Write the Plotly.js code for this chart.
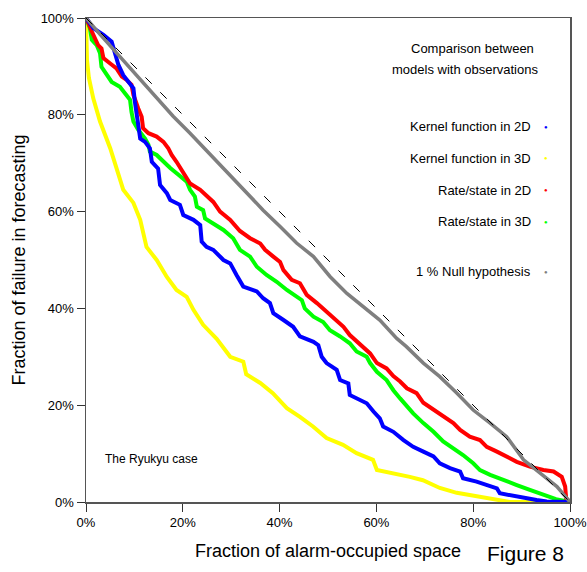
<!DOCTYPE html>
<html>
<head>
<meta charset="utf-8">
<script src="https://cdn.plot.ly/plotly-3.0.1.min.js"></script>
<style>html,body{margin:0;padding:0;background:#fff;}#chart{width:587px;height:572px;}</style>
</head>
<body>
<div id="chart"></div>
<script>
// Fraction of alarm-occupied space (%) and fraction of failure (%) per model
var kernel2dX = [0,0.1,1.5,3.6,5.3,6.0,6.7,7.7,8.7,9.8,10.1,10.5,10.8,11.2,12.2,13.2,13.6,14.9,15.3,16.7,17.4,19.4,20.1,22.2,23.6,23.9,24.9,26.3,28.4,29.8,31.1,32.5,35.3,36.6,38.0,38.7,40.8,42.8,44.2,47.0,48.0,48.7,49.7,51.8,52.5,54.2,54.5,55.9,58.0,59.4,60.7,61.4,63.5,65.6,67.6,69.7,71.8,73.1,75.2,77.3,77.9,80.7,82.8,84.9,85.5,87.6,90.4,93.1,95.2,100];
var kernel2dY = [100,99.9,97.9,96.5,95.1,93.0,90.3,88.2,86.8,85.5,82.7,80.0,77.2,75.1,74.4,73.1,70.3,68.9,65.5,63.8,62.4,61.4,59.3,58.3,57.2,53.8,52.7,52.1,50.0,49.3,46.9,44.5,43.5,42.1,41.1,39.0,37.6,36.2,34.2,33.1,32.4,30.0,28.7,27.3,25.2,24.5,22.1,21.4,20.4,18.7,17.3,15.6,14.5,12.8,11.4,10.4,9.4,8.0,7.0,6.3,4.9,4.2,3.5,2.8,1.8,1.4,0.8,0.4,0.1,0];

var kernel3dX = [0,0.2,0.6,1.5,2.9,5.0,6.3,7.7,9.8,11.2,12.5,14.6,16.7,18.7,20.8,22.2,24.2,27.0,29.8,32.5,33.1,36.0,38.6,41.5,44.2,46.9,49.7,53.1,55.9,59.3,60.1,63.4,66.9,69.6,73.1,76.6,79.3,81.4,84.9,87.6,100];
var kernel3dY = [100,91.3,87.6,83.4,78.6,73.1,69.0,64.5,61.8,58.3,52.7,50.0,46.5,43.8,42.4,39.7,36.6,33.7,30.0,29.0,26.4,24.6,22.5,19.4,17.6,15.6,13.2,11.8,10.1,8.7,6.6,6.0,5.2,4.5,2.9,1.9,1.4,1.1,0.4,0,0];

var rate2dX = [0,0.1,1.2,2.5,3.2,3.6,5.0,6.3,7.4,8.4,9.4,9.8,10.8,11.5,11.8,12.9,14.6,16.0,17.0,17.7,18.7,19.8,21.5,23.6,24.9,26.3,27.7,29.8,31.8,33.9,36.0,37.0,38.7,40.1,40.8,42.5,44.2,45.6,47.7,49.7,51.1,53.2,54.5,55.8,57.3,58.7,60.1,62.1,63.5,64.9,66.3,68.3,69.7,71.8,73.8,75.9,77.3,79.3,81.4,82.8,84.9,86.9,89.0,91.7,94.5,96.6,98.3,99.0,99.2,100];
var rate2dY = [100,99.9,97.2,94.4,93.7,91.7,90.6,89.6,87.9,87.2,86.2,84.1,81.3,79.6,77.2,76.2,75.5,74.4,73.1,71.7,70.3,68.6,65.8,64.5,63.4,62.0,60.0,58.3,56.0,54.5,53.4,52.1,50.7,49.6,47.9,45.9,45.2,42.8,41.1,39.3,38.3,36.2,34.5,33.3,32.1,30.7,28.7,27.6,26.0,24.9,23.5,22.5,20.5,19.0,17.6,16.3,14.9,13.5,12.8,11.4,10.4,9.3,8.3,7.3,6.6,6.3,5.2,3.2,0.8,0];

var rate3dX = [0,0.1,0.8,1.2,2.2,2.9,3.2,4.3,5.3,7.0,8.1,9.1,9.4,9.8,10.8,12.2,12.9,13.2,14.6,16.0,17.4,19.1,20.8,21.5,22.5,22.9,24.2,24.6,26.3,28.4,30.4,31.8,33.9,35.3,37.3,39.4,41.5,43.5,44.6,45.2,47.0,49.0,50.4,52.5,54.5,55.9,58.0,58.7,60.1,62.1,63.5,64.9,67.6,69.7,71.8,73.8,75.9,77.9,80.0,81.4,83.5,86.2,89.0,91.7,94.5,97.1,100];
var rate3dY = [100,99.9,97.9,95.5,94.4,92.7,89.9,88.2,86.8,85.8,84.4,83.1,80.6,78.6,76.9,75.1,73.8,72.4,71.7,70.3,69.0,67.6,66.2,64.5,63.1,61.0,60.3,58.6,57.6,56.2,54.5,52.1,50.7,48.6,46.9,45.5,43.8,42.4,41.7,40.0,38.3,37.2,35.5,34.2,32.8,31.1,30.0,28.7,26.9,25.2,23.1,21.4,18.3,16.3,14.5,12.5,11.1,9.7,8.0,6.6,5.6,4.5,3.5,2.5,1.4,0.6,0];

var nullX = [0,0.1,2.9,5.6,7.7,9.8,12.5,15.3,18.0,21.5,24.9,28.4,30.4,33.2,36.6,40.1,43.5,47.0,50.4,53.9,57.3,60.7,64.2,66.2,69.7,73.1,76.6,80.0,83.5,86.9,90.4,93.8,97.3,100];
var nullY = [100,99.9,96.6,93.6,91.2,89.0,85.9,82.7,79.7,76.2,72.6,68.9,66.7,63.8,60.3,56.9,53.5,50.7,46.6,43.1,40.4,37.6,33.8,32.1,28.7,25.9,22.5,19.0,16.3,13.5,8.7,5.9,3.2,0];

var seriesNames = ["Kernel function in 2D","Kernel function in 3D","Rate/state in 2D","Rate/state in 3D","1 % Null hypothesis"];
var seriesColors = ["#0000ff","#ffff00","#ff0000","#00ff00","#7f7f7f"];
var tickVals = [0,20,40,60,80,100];

var FONT = "Liberation Sans, Arial, Helvetica, sans-serif";

function tr(x, y, i, w) {
  return {x: x, y: y, type: "scatter", mode: "lines", name: seriesNames[i],
    line: {color: seriesColors[i], width: w}, showlegend: false, hoverinfo: "skip"};
}
var data = [
  tr(kernel3dX, kernel3dY, 1, 4),
  tr(rate3dX, rate3dY, 3, 4),
  tr(rate2dX, rate2dY, 2, 4),
  tr(kernel2dX, kernel2dY, 0, 4),
  tr(nullX, nullY, 4, 3.5)
];

var legendY = [126.7, 158.3, 190, 221.7, 271.7]; // pixel rows
function py(p) { return (502 - p) / 484; }
function px(p) { return (p - 86) / 484; }

var annotations = [];
annotations.push({xref:"paper", yref:"paper", x: px(472), y: py(48), text: "Comparison between", showarrow:false, xanchor:"center", yanchor:"middle", font:{family:FONT,size:13,color:"#000"}});
annotations.push({xref:"paper", yref:"paper", x: px(465), y: py(70), text: "models with observations", showarrow:false, xanchor:"center", yanchor:"middle", font:{family:FONT,size:13,color:"#000"}});
for (var i = 0; i < seriesNames.length; i++) {
  annotations.push({xref:"paper", yref:"paper", x: px(533), y: py(legendY[i]), text: seriesNames[i], showarrow:false, xanchor:"right", yanchor:"middle", font:{family:FONT,size:13,color:"#000"}});
  annotations.push({xref:"paper", yref:"paper", x: px(546), y: py(legendY[i]), text: "●", showarrow:false, xanchor:"center", yanchor:"middle", font:{family:FONT,size:6,color:seriesColors[i]}});
}
annotations.push({xref:"paper", yref:"paper", x: px(103), y: py(459), text: "The Ryukyu case", showarrow:false, xanchor:"left", yanchor:"middle", font:{family:FONT,size:12,color:"#000"}});
annotations.push({xref:"paper", yref:"paper", x: px(525), y: py(553), text: "Figure 8", showarrow:false, xanchor:"center", yanchor:"middle", font:{family:FONT,size:21,color:"#000"}});

var axisCommon = {
  range: [0, 100], tickmode: "array", tickvals: tickVals, ticktext: tickVals.map(function(v){return v + "%";}),
  showgrid: false, zeroline: false, showline: true, mirror: true, linecolor: "#555", linewidth: 1.5,
  ticks: "outside", ticklen: 8, tickwidth: 1, tickcolor: "#333", ticklabeloverflow: "allow",
  tickfont: {family: FONT, size: 13, color: "#000"}, fixedrange: true
};

var layout = {
  width: 587, height: 572,
  margin: {l: 86, r: 17, t: 18, b: 70, pad: 0},
  paper_bgcolor: "#fff", plot_bgcolor: "#fff",
  showlegend: false,
  xaxis: Object.assign({}, axisCommon, {title: {text: "Fraction of alarm-occupied space", font: {family: FONT, size: 18, color: "#000"}, standoff: 15}}),
  yaxis: Object.assign({}, axisCommon, {title: {text: "Fraction of failure in forecasting", font: {family: FONT, size: 18, color: "#000"}, standoff: 10}}),
  shapes: [{type: "line", xref: "x", yref: "y", x0: 0, y0: 100, x1: 100, y1: 0, line: {color: "#000", width: 1, dash: "9px,12px"}}],
  annotations: annotations
};

Plotly.newPlot("chart", data, layout, {displayModeBar: false, staticPlot: true});
</script>
</body>
</html>
